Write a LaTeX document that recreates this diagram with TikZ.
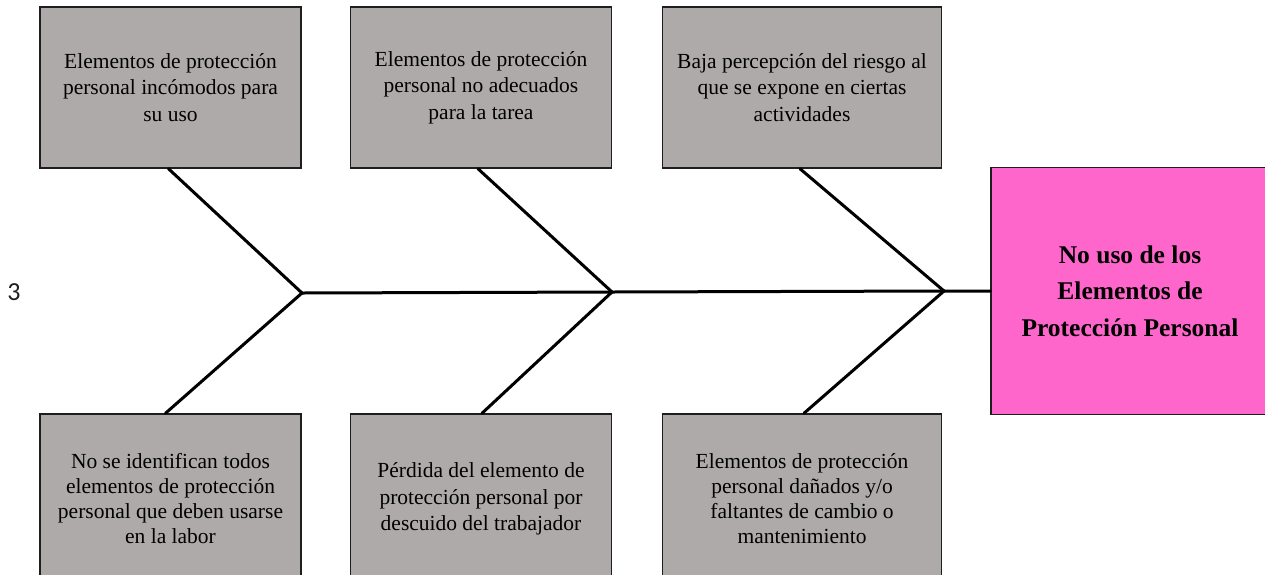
\documentclass[tikz,border=0pt]{standalone}
\usepackage{fontspec}
\setmainfont{Liberation Serif}
\newfontfamily\numfont{Carlito}
\definecolor{boxgray}{RGB}{174,170,170}
\definecolor{effpink}{RGB}{255,102,204}
\definecolor{edge}{RGB}{30,30,30}
\begin{document}
\begin{tikzpicture}[x=1pt,y=-1pt,
  cause/.style={draw=edge,line width=1.5pt,fill=boxgray,minimum height=161pt,
    align=center,inner sep=0pt,font=\fontsize{21.5}{26.5}\selectfont},
  tight/.style={font=\fontsize{21.5}{25}\selectfont},
  effect/.style={draw=edge,line width=1.5pt,fill=effpink,minimum width=278pt,minimum height=247pt,
    align=center,inner sep=0pt,font=\fontsize{25.5}{36.5}\selectfont\bfseries},
  bone/.style={line width=3pt,black,line cap=round}]
\useasboundingbox (0,0) rectangle (1265,574);
\node[cause,minimum width=261pt] (t1) at (170.5,87.5) {Elementos de protección\\personal incómodos para\\su uso};
\node[cause,minimum width=261pt] (t2) at (481,87.5) {Elementos de protección\\personal no adecuados\\para la tarea};
\node[cause,minimum width=279pt] (t3) at (802,87.5) {Baja percepción del riesgo al\\que se expone en ciertas\\actividades};
\node[cause,tight,minimum width=261pt,minimum height=170pt] (b1) at (170.5,499) {No se identifican todos\\elementos de protección\\personal que deben usarse\\en la labor};
\node[cause,minimum width=261pt,minimum height=170pt] (b2) at (481,499) {Pérdida del elemento de\\protección personal por\\descuido del trabajador};
\node[cause,tight,minimum width=279pt,minimum height=170pt] (b3) at (802,499) {Elementos de protección\\personal dañados y/o\\faltantes de cambio o\\mantenimiento};
\node[effect] (e) at (1130,291) {No uso de los\\Elementos de\\Protección Personal};
\node[font=\numfont\fontsize{26}{30}\selectfont,text=black!88] (n) at (14,292) {3};
\coordinate (j1) at (302,293);
\coordinate (j2) at (612,292);
\coordinate (j3) at (944,291);
\draw[bone] (j1) -- (j2) -- (j3) -- (e.west |- j3);
\draw[bone] ([xshift=-2pt]t1.south) -- (j1);
\draw[bone] ([xshift=-3pt]t2.south) -- (j2);
\draw[bone] ([xshift=-2pt]t3.south) -- (j3);
\draw[bone] (j1) -- ([xshift=-5pt]b1.north);
\draw[bone] (j2) -- ([xshift=1pt]b2.north);
\draw[bone] (j3) -- ([xshift=2pt]b3.north);
\end{tikzpicture}
\end{document}
